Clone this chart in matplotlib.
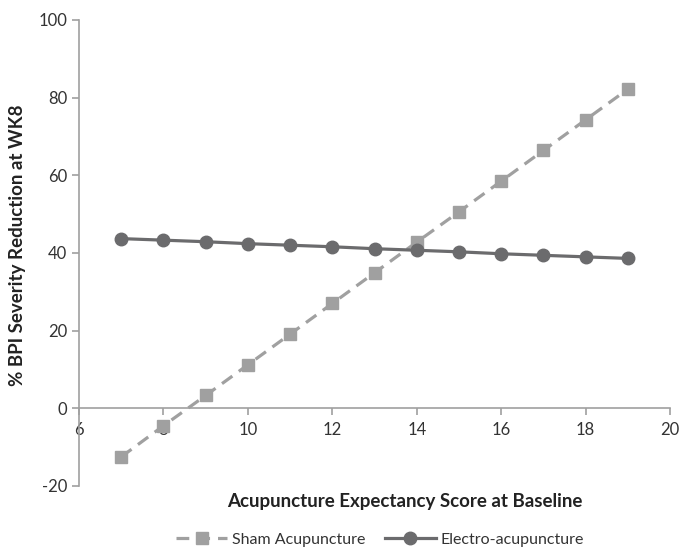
import matplotlib
matplotlib.use("Agg")
import matplotlib.pyplot as plt

plt.rcParams['font.family'] = ['Lato', 'DejaVu Sans']
plt.rcParams['axes.unicode_minus'] = False

x_scores = [7, 8, 9, 10, 11, 12, 13, 14, 15, 16, 17, 18, 19]
sham = [-12.5, -4.5, 3.3, 11.2, 19.1, 27.0, 34.9, 42.8, 50.6, 58.5, 66.4, 74.3, 82.2]
electro = [43.7, 43.3, 42.9, 42.4, 42.0, 41.6, 41.1, 40.7, 40.3, 39.8, 39.4, 39.0, 38.6]
x_ticks = [6, 8, 10, 12, 14, 16, 18, 20]
y_ticks = [-20, 0, 20, 40, 60, 80, 100]

fig = plt.figure(figsize=(6.81, 5.49), dpi=100)
ax = fig.add_axes([0.116, 0.1148, 0.868, 0.8488])

sham_c = '#a0a0a0'
el_c = '#6b6b6d'
ax.plot(x_scores, sham, color=sham_c, lw=2.3, ls=(0, (4, 2.5)), marker='s', ms=8,
        mfc=sham_c, mec=sham_c, label='Sham Acupuncture', zorder=3)
ax.plot(x_scores, electro, color=el_c, lw=2.3, marker='o', ms=9,
        mfc=el_c, mec=el_c, label='Electro-acupuncture', zorder=4)

ax.set_xlim(6, 20)
ax.set_ylim(-20, 100)
ax.set_xticks(x_ticks)
ax.set_yticks(y_ticks)

for s in ['top', 'right']:
    ax.spines[s].set_visible(False)
ax.spines['bottom'].set_position(('data', 0))
for s in ['left', 'bottom']:
    ax.spines[s].set_color('#a0a0a0')
    ax.spines[s].set_linewidth(1.2)
ax.tick_params(axis='both', colors='#a0a0a0', length=5, width=1.2, labelcolor='#333333',
               labelsize=12)
ax.tick_params(axis='x', pad=5)

fig.text(405/681, 1-502/549, 'Acupuncture Expectancy Score at Baseline', ha='center',
         va='center', fontsize=13.5, fontweight='bold', color='#222222')
fig.text(18/681, 1-245/549, '% BPI Severity Reduction at WK8', ha='center',
         va='center', rotation=90, fontsize=13.5, fontweight='bold', color='#222222')

leg = fig.legend(loc='center', bbox_to_anchor=(380/681, 1-540/549), ncol=2,
                 frameon=False, fontsize=11.5, handlelength=3.2, columnspacing=1.2,
                 handletextpad=0.3)
for t in leg.get_texts():
    t.set_color('#333333')

fig.savefig('out.png', dpi=100)
